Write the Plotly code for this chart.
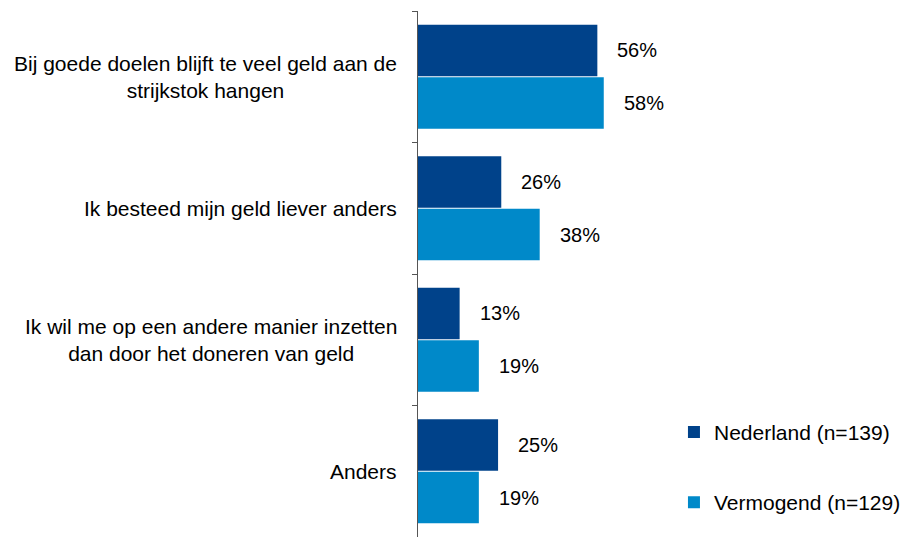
import plotly.graph_objects as go

# Survey answers (one bar group per reason)
categories = [
    "Bij goede doelen blijft te veel geld aan de<br>strijkstok hangen",
    "Ik besteed mijn geld liever anders",
    "Ik wil me op een andere manier inzetten<br>dan door het doneren van geld",
    "Anders",
]
series_names = ["Nederland (n=139)", "Vermogend (n=129)"]
nederland = [56, 26, 13, 25]
vermogend = [58, 38, 19, 19]
series_values = [nederland, vermogend]
colors = ["#00428A", "#0089C9"]

FONT = "Liberation Sans, Arial, sans-serif"
BARGAP = 0.2
GROUPGAP = 0.02

fig = go.Figure()
for i, (name, vals) in enumerate(zip(series_names, series_values)):
    fig.add_trace(go.Bar(
        y=list(range(len(categories))),
        x=vals,
        name=name,
        orientation="h",
        marker=dict(color=colors[i], line=dict(width=0)),
        legendgroup=name,
        hoverinfo="skip",
    ))

# value labels next to each bar; bar centres sit at +/- a quarter of the group width
half = (1 - BARGAP) / 4
annotations = []
for i, vals in enumerate(series_values):
    offset = -half if i == 0 else half
    for j, v in enumerate(vals):
        annotations.append(dict(
            x=v, y=j + offset, xref="x", yref="y",
            text=f"{v}%", showarrow=False,
            xanchor="left", yanchor="middle", xshift=18,
            font=dict(family=FONT, size=20, color="#000000"),
        ))

# category labels left of the axis, wrapped lines centred
for j, cat in enumerate(categories):
    annotations.append(dict(
        x=0, y=j, xref="paper", yref="y",
        text=cat, showarrow=False, align="center",
        xanchor="right", yanchor="middle", xshift=-19,
        font=dict(family=FONT, size=21, color="#000000"),
    ))

fig.update_layout(
    width=906, height=537,
    margin=dict(l=418, r=6, t=11, b=0),
    paper_bgcolor="white", plot_bgcolor="white",
    barmode="group", bargap=BARGAP, bargroupgap=GROUPGAP,
    showlegend=True,
    legend=dict(
        x=0.54, y=0.238, xanchor="left", yanchor="top",
        traceorder="grouped", tracegroupgap=40,
        font=dict(family=FONT, size=21, color="#000000"),
        bgcolor="rgba(0,0,0,0)", itemwidth=30,
    ),
    xaxis=dict(range=[0, 148], visible=False, showgrid=False, zeroline=False),
    yaxis=dict(
        range=[len(categories) - 0.5, -0.5],
        showticklabels=False, showgrid=False, zeroline=False,
        showline=True, linecolor="#555555", linewidth=1,
        ticks="outside", ticklen=5, tickcolor="#555555",
        tickvals=[-0.5, 0.5, 1.5, 2.5, 3.5],
    ),
    annotations=annotations,
    font=dict(family=FONT),
)

fig.write_html("out.html")
